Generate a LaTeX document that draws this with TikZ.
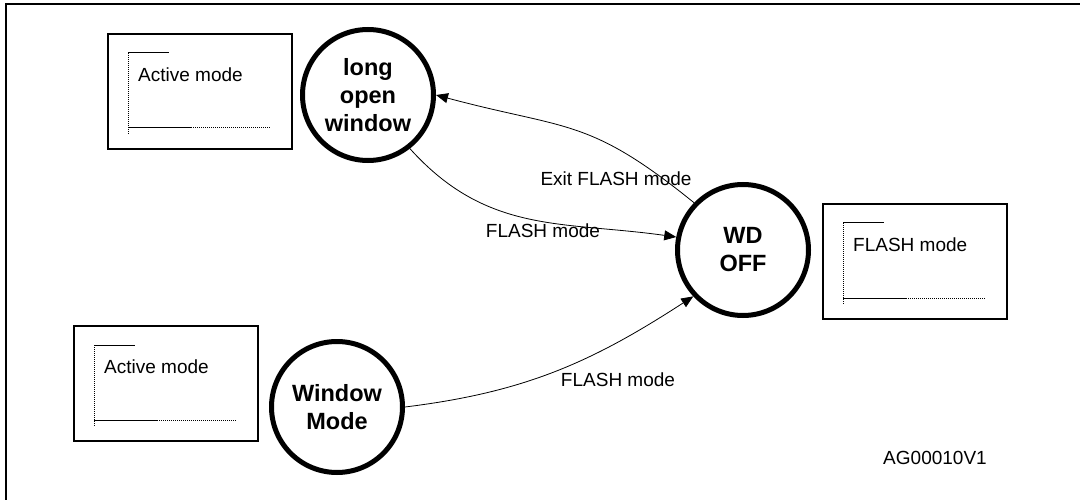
\documentclass[tikz,border=0pt]{standalone}
\usepackage{fontspec}
\setmainfont{Liberation Sans}
\usetikzlibrary{arrows.meta,calc}
\tikzset{
  state/.style={circle,draw,line width=5pt,minimum size=131pt,inner sep=0pt,align=center,
    font=\fontsize{23.5}{28}\selectfont\bfseries},
  lbl/.style={inner sep=0pt,font=\fontsize{19}{22}\selectfont},
  frame/.style={draw,line width=2pt,inner sep=0pt},
  conn/.style={line width=0.8pt,-{Triangle[length=12pt,width=10pt]}},
  inner/.style={line width=1pt},
  dots/.style={line width=1pt,dash pattern=on 1pt off 1pt}
}
\newcommand\modebox[4]{% name, x, y (top-left), text
  \node[frame,minimum width=184pt,minimum height=115pt,anchor=north west] (#1) at (#2,#3) {};
  \coordinate (#1v) at ($(#1.north west)+(21,20)$);
  \draw[dots] (#1v) -- ++(0,82);
  \draw[inner] (#1v) -- ++(41,0);
  \draw[inner] ($(#1v)+(0,75)$) -- ++(63,0);
  \draw[dots] ($(#1v)+(63,75)$) -- ++(80,0);
  \node[lbl,anchor=west] (#1t) at ($(#1v)+(10,22)$) {#4};
}
\begin{document}
\begin{tikzpicture}[x=1pt,y=-1pt]
\useasboundingbox (0,0) rectangle (1080,500);
\coordinate (fa) at (6,504);
\coordinate (fb) at (6,4);
\coordinate (fc) at (1084,4);
\draw[line width=2.5pt] (fa) -- (fb) -- (fc);

\modebox{b1}{107}{33}{Active mode}
\modebox{b2}{822}{203}{FLASH mode}
\modebox{b3}{73}{325}{Active mode}

\node[state] (low) at (368,95) {long\\open\\window};
\node[state] (wd) at (743,250) {WD\\OFF};
\node[state] (win) at (337,407) {Window\\Mode};

\draw[conn] (wd.136) to[out=141,in=-15,looseness=1.25] (low.0);
\draw[conn] (low.-52) to[out=-48,in=172,looseness=1.05] (wd.169);
\draw[conn] (win.0) to[out=7,in=213] (wd.223);

\node[lbl] (l1) at (616,179) {Exit FLASH mode};
\node[lbl] (l2) at (543,231) {FLASH mode};
\node[lbl] (l3) at (618,380) {FLASH mode};
\node[lbl] (ag) at (935,458) {AG00010V1};
\end{tikzpicture}
\end{document}
